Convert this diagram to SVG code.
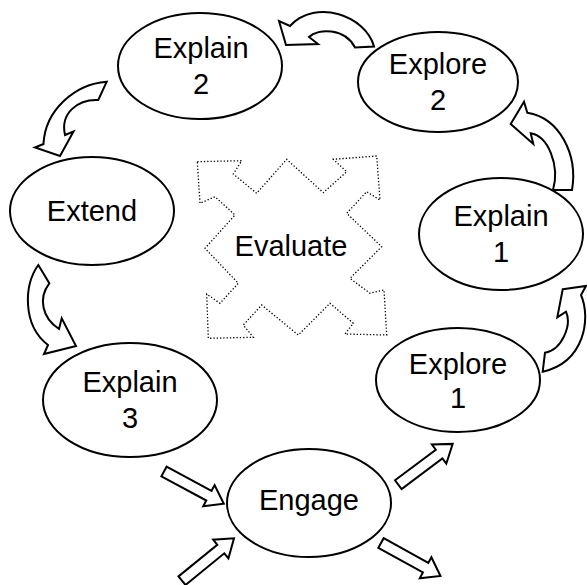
<svg xmlns="http://www.w3.org/2000/svg" width="587" height="585" viewBox="0 0 587 585">
<style>
.bg{fill:#fff}
ellipse{fill:#fff;stroke:#000;stroke-width:2}
.lbl{font-family:"Liberation Sans",Arial,sans-serif;font-size:29px;text-anchor:middle;fill:#000}
.arr{fill:#fff;stroke:#000;stroke-width:2;stroke-linejoin:miter}
.dot{fill:none;stroke:#000;stroke-width:1.3;stroke-dasharray:1.3 2}
</style>
<rect class="bg" x="0" y="0" width="587" height="585"/>
<g id="connectors">
<path class="arr" d="M279,21 L286,45 L318,44 L309,37 C318,28 345,28 355,47.5 L374,46.5 C366,16 316,-2 290,26 Z"/>
<path class="arr" d="M527.3,112.7 L524,101.7 L510.7,124 L533.3,144 L530.7,133.3 C548,136 560,165 553,190 L572,190 C578,155 560,118 527.3,112.7 Z"/>
<path class="arr" d="M562.7,289.3 L586,286 L581,295 C591,318 585,362 542.7,371.7 L545,352.7 C562,350 572,325 566,311.7 L557.3,317.3 Z"/>
<path class="arr" d="M106.7,81.7 C75,84 45,110 43.5,144 L35,147.5 L60,156 L73.5,131.5 L65,135 C60,113 78,99 98.3,100 Z"/>
<path class="arr" d="M38.3,265 C24,285 22,325 48,345 L44,354 L76,346 L61.7,318.3 L59,329 C42,318 38,298 49.3,283.3 Z"/>
<path class="arr" d="M166.6,466.7 L211.5,490.9 L214.6,485.1 L223.8,503.8 L203.2,506.3 L206.3,500.5 L161.4,476.3 Z"/>
<path class="arr" d="M178.5,576.4 L217.3,544.8 L213.2,539.7 L234,538.3 L228.4,558.4 L224.3,553.3 L185.5,585 Z"/>
<path class="arr" d="M395,480.3 L435.8,449.7 L431.9,444.5 L452.7,443.9 L446.3,463.7 L442.4,458.5 L401.6,489.1 Z"/>
<path class="arr" d="M383.7,538.2 L428.3,562.9 L431.4,557.2 L440.5,576 L419.8,578.2 L422.9,572.5 L378.3,547.8 Z"/>
</g>
<g id="evaluate">
<path class="dot" d="M197.3,161.7 L241.7,160.7 L233.3,174 L256.7,193.3 L286.7,159.3 L323.3,192.7 L346.7,171.7 L333.3,159.3 L376.7,156 L380,200 L366.7,191.7 L346.7,213.3 L381.7,246.7 L350,278.3 L370,293.3 L384,290 L386.7,335 L345,334 L353.3,323.3 L330,303.3 L298.3,335 L261.7,305 L243.3,325 L253.3,337.3 L208.3,338.3 L206.7,294 L220,303.3 L238.3,283.3 L205,248.3 L235,215 L215,196.7 L200,203.3 Z"/>
<text class="lbl" x="291" y="256">Evaluate</text>
</g>
<g id="explain2"><ellipse cx="200" cy="66" rx="82" ry="53"/><text class="lbl" x="201" y="58">Explain</text><text class="lbl" x="201" y="94">2</text></g>
<g id="explore2"><ellipse cx="438" cy="82" rx="80" ry="50"/><text class="lbl" x="438" y="74">Explore</text><text class="lbl" x="438" y="110">2</text></g>
<g id="explain1"><ellipse cx="501" cy="234" rx="82" ry="56"/><text class="lbl" x="501" y="226">Explain</text><text class="lbl" x="501" y="262">1</text></g>
<g id="explore1"><ellipse cx="458" cy="380" rx="82" ry="52"/><text class="lbl" x="458" y="374">Explore</text><text class="lbl" x="458" y="408">1</text></g>
<g id="extend"><ellipse cx="92" cy="211" rx="82" ry="54"/><text class="lbl" x="92" y="221">Extend</text></g>
<g id="explain3"><ellipse cx="130" cy="400" rx="87" ry="57"/><text class="lbl" x="130" y="392">Explain</text><text class="lbl" x="130" y="428">3</text></g>
<g id="engage"><ellipse cx="309" cy="503" rx="82" ry="54"/><text class="lbl" x="309" y="510">Engage</text></g>
</svg>
